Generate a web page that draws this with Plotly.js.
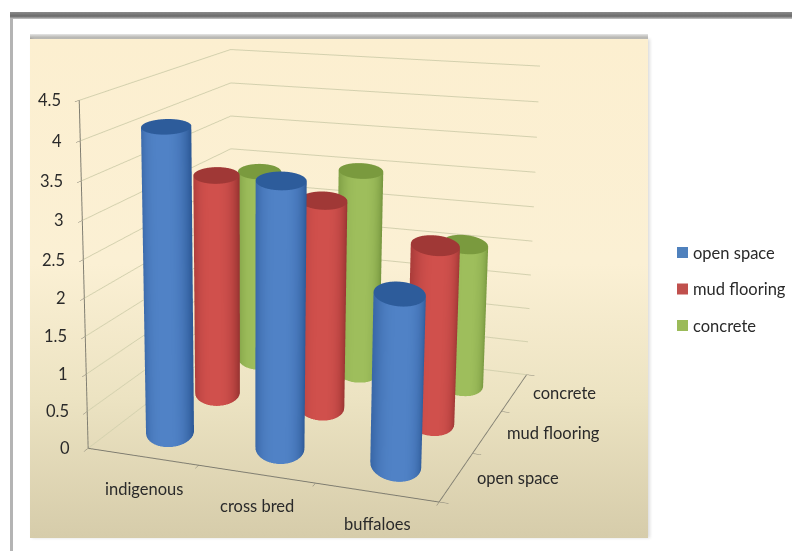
<!DOCTYPE html>
<html>
<head>
<meta charset="utf-8">
<script src="https://cdn.plot.ly/plotly-3.0.1.min.js"></script>
<style>
  html, body { margin: 0; padding: 0; width: 792px; height: 551px; overflow: hidden; background: #fff; }
  .frame-top { position: absolute; left: 10px; top: 12px; width: 782px; height: 7px;
    background: linear-gradient(#8a8a8a, #6a6a6a 60%, #c8c8c8); }
  .frame-left { position: absolute; left: 10px; top: 18px; width: 3px; height: 533px; background: #b4b4b4; }
  .panel { position: absolute; left: 30px; top: 39px; width: 618px; height: 499px;
    background: linear-gradient(#fcefd0 0%, #fbf0d4 45%, #ece3c2 72%, #d6ccaa 100%);
    box-shadow: 2px 0 3px #ddd; }
  .panel-top { position: absolute; left: 30px; top: 34px; width: 618px; height: 6px;
    background: linear-gradient(#e6e6e6, #8f8c84); }
  #chart { position: absolute; }
</style>
</head>
<body>
<div class="frame-top"></div>
<div class="frame-left"></div>
<div class="panel-top"></div>
<div class="panel"></div>
<div id="chart"></div>
<script>
// Housing type by breed, drawn as upright cylinders on a 3D floor.
const breeds = ['indigenous', 'cross bred', 'buffaloes'];
const housing = ['open space', 'mud flooring', 'concrete'];
const openSpace = [4.07, 3.5, 2.22];
const mudFlooring = [3.12, 2.9, 2.43];
const concrete = [2.85, 2.98, 2.05];
const valueTicks = [0, 0.5, 1, 1.5, 2, 2.5, 3, 3.5, 4, 4.5];
const valueLabels = ['0', '0.5', '1', '1.5', '2', '2.5', '3', '3.5', '4', '4.5'];

const series = [
  { name: housing[0], values: openSpace, mid: [80, 130, 198], edge: [44, 88, 150], cap: [45, 92, 155], swatch: '#4f81bd' },
  { name: housing[1], values: mudFlooring, mid: [208, 80, 76], edge: [150, 50, 48], cap: [160, 56, 54], swatch: '#c0504d' },
  { name: housing[2], values: concrete, mid: [158, 190, 92], edge: [112, 144, 58], cap: [122, 154, 62], swatch: '#9bbb59' }
];

// Chart canvas is larger than the window so the lens centre can sit at the right spot.
const W = 1800, H = 1342, LEFT = -650, TOP = -447;
const paperX = px => (px - LEFT) / W;
const paperY = py => 1 - (py - TOP) / H;
const holder = document.getElementById('chart');
holder.style.left = LEFT + 'px';
holder.style.top = TOP + 'px';

// Box proportions, and the cylinder section given along and across the line of sight.
const ASPECT = { x: 0.985, y: 1.04, z: 0.96 };
const ACROSS = 0.067, ALONG = 0.115, SEGMENTS = 48, YAW = 21.45 * Math.PI / 180;
const rgb = c => 'rgb(' + c.map(Math.round).join(',') + ')';
const mix = (a, b, t) => a.map((v, i) => v + (b[i] - v) * t);
const toX = 3 / ASPECT.x, toY = 3 / ASPECT.y;
const ringX = a => (ACROSS * Math.cos(a) * Math.cos(YAW) - ALONG * Math.sin(a) * Math.sin(YAW)) * toX;
const ringY = a => (ACROSS * Math.cos(a) * Math.sin(YAW) + ALONG * Math.sin(a) * Math.cos(YAW)) * toY;

// One closed cylinder with its own side shading and a darker cap.
function cylinder(cx, cy, height, s) {
  const x = [], y = [], z = [], colors = [], i = [], j = [], k = [];
  const push = (px, py, pz, c) => { x.push(px); y.push(py); z.push(pz); colors.push(rgb(c)); return x.length - 1; };
  for (let n = 0; n <= SEGMENTS; n++) {
    const a = 2 * Math.PI * n / SEGMENTS;
    const t = Math.cos(a);
    const c = mix(s.mid, s.edge, Math.pow(Math.abs(t + 0.08) / 1.08, 3));
    push(cx + ringX(a), cy + ringY(a), 0, c);
    push(cx + ringX(a), cy + ringY(a), height, c);
  }
  for (let n = 0; n < SEGMENTS; n++) {
    const b = 2 * n;
    i.push(b, b + 1); j.push(b + 1, b + 3); k.push(b + 2, b + 2);
  }
  const hub = push(cx, cy, height, s.cap);
  const ring = x.length;
  for (let n = 0; n <= SEGMENTS; n++) {
    const a = 2 * Math.PI * n / SEGMENTS;
    push(cx + ringX(a), cy + ringY(a), height, s.cap);
  }
  for (let n = 0; n < SEGMENTS; n++) { i.push(hub); j.push(ring + n); k.push(ring + n + 1); }
  return {
    type: 'mesh3d', x, y, z, i, j, k, vertexcolor: colors, name: s.name,
    showlegend: false, showscale: false, hoverinfo: 'skip',
    flatshading: false,
    lighting: { ambient: 1, diffuse: 0, specular: 0, roughness: 1, fresnel: 0 }
  };
}

const traces = [];
series.forEach((s, row) => {
  s.values.forEach((v, col) => traces.push(cylinder(col + 0.48, row + 0.56, v, s)));
});

const labelFont = { family: 'Lato, "Open Sans", sans-serif', size: 16.5, color: '#2a2a2a' };
const annotations = [];
valueTicks.forEach((v, n) => annotations.push({
  x: 0, y: 0, z: v, text: valueLabels[n], showarrow: false, xanchor: 'right', xshift: -16, font: labelFont
}));
breeds.forEach((b, n) => annotations.push({
  x: n + 0.5, y: 0, z: 0, text: b, showarrow: false, yshift: -32, xshift: 1, font: labelFont
}));
const housingShift = [62, 66, 50];
housing.forEach((h, n) => annotations.push({
  x: 3, y: n + 0.5, z: 0, text: h, showarrow: false, xshift: housingShift[n], yshift: -1, font: labelFont
}));

const baseAxis = {
  showbackground: false, showgrid: false, zeroline: false, showline: true, linecolor: '#7f7d70', linewidth: 2,
  showticklabels: false, ticks: 'outside', ticklen: 7, tickcolor: '#7f7d70', title: { text: '' },
  showspikes: false
};

// Legend swatches and names sit in the right margin, in window pixels.
const legendRows = [252.5, 289, 325.5];
const legendShapes = series.map((s, n) => ({
  type: 'rect', xref: 'paper', yref: 'paper', fillcolor: s.swatch, line: { width: 0 },
  x0: paperX(677), x1: paperX(688), y0: paperY(legendRows[n] - 5.5), y1: paperY(legendRows[n] + 5.5)
}));
const legendNames = series.map((s, n) => ({
  xref: 'paper', yref: 'paper', x: paperX(691), y: paperY(legendRows[n]), xanchor: 'left', yanchor: 'middle',
  text: s.name, showarrow: false, font: labelFont
}));

const layout = {
  width: W, height: H,
  margin: { l: 0, r: 0, t: 0, b: 0 },
  paper_bgcolor: 'rgba(0,0,0,0)',
  showlegend: false,
  shapes: legendShapes,
  annotations: legendNames,
  scene: {
    domain: { x: [0, 1], y: [0, 1] },
    aspectmode: 'manual',
    aspectratio: ASPECT,
    camera: {
      eye: { x: 1.434, y: -4.215, z: 1.176 },
      center: { x: -0.128, y: -0.24, z: 0.119 },
      up: { x: 0, y: 0, z: 1 }
    },
    xaxis: Object.assign({}, baseAxis, { range: [0, 3], tickvals: [0, 1, 2, 3], ticktext: ['', '', '', ''] }),
    yaxis: Object.assign({}, baseAxis, { range: [0, 3], tickvals: [0, 1, 2, 3], ticktext: ['', '', '', ''] }),
    zaxis: Object.assign({}, baseAxis, { range: [0, 4.5], tickvals: valueTicks, showgrid: true, gridcolor: '#d3d0ae', gridwidth: 2 }),
    annotations
  }
};

Plotly.newPlot('chart', traces, layout, { displayModeBar: false });
</script>
</body>
</html>
